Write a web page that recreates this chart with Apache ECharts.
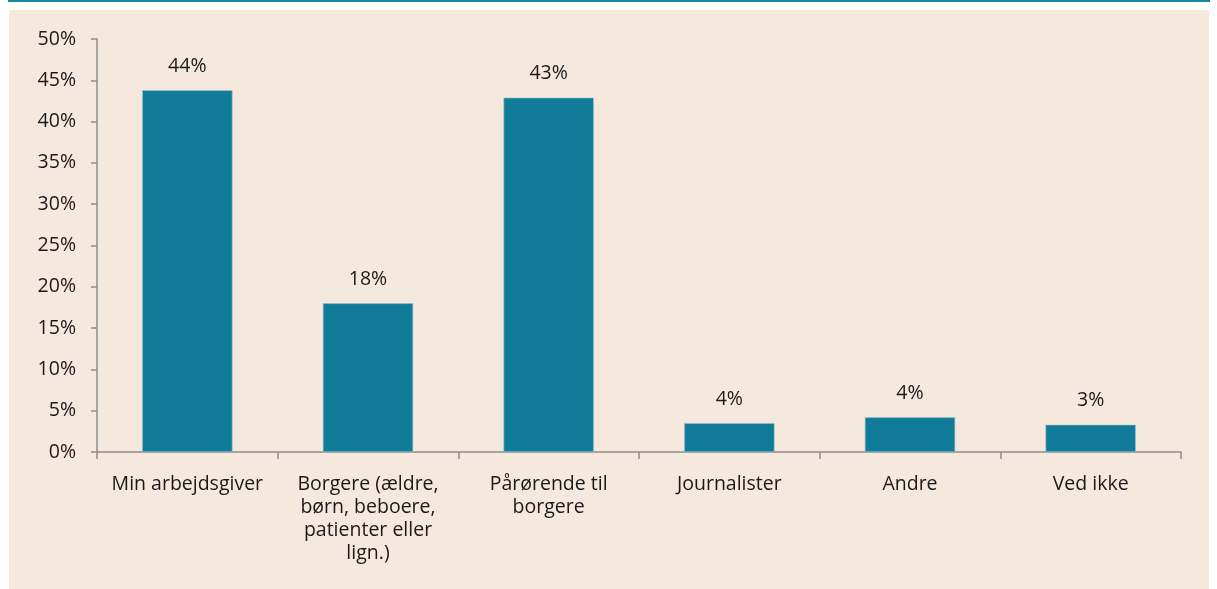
<!DOCTYPE html>
<html><head><meta charset="utf-8">
<script src="https://cdn.jsdelivr.net/npm/echarts@6/dist/echarts.min.js"></script>
<style>
html,body{margin:0;padding:0;background:#fff;width:1217px;height:589px;overflow:hidden}
#topline{position:absolute;left:8px;top:0;width:1202px;height:2px;background:#1b8aa1}
#bg{position:absolute;left:9px;top:10px;width:1200px;height:579px;background:#f5e8dc}
#chart{position:absolute;left:0;top:0;width:1217px;height:589px}
</style></head><body>
<div id="topline"></div><div id="bg"></div><div id="chart"></div>
<script>
const categories = ["Min arbejdsgiver", "Borgere (ældre,\nbørn, beboere,\npatienter eller\nlign.)", "Pårørende til\nborgere", "Journalister", "Andre", "Ved ikke"];
const values = [43.8, 18.0, 42.9, 3.5, 4.2, 3.3];
const yTicks = [0, 5, 10, 15, 20, 25, 30, 35, 40, 45, 50];
const FONT = "Open Sans";
const FS = 19.5;
const chart = echarts.init(document.getElementById('chart'), null, {renderer:'canvas'});
chart.setOption({
  backgroundColor: 'transparent',
  animation: false,
  grid: {left: 97, right: 36, top: 39, bottom: 137},
  xAxis: {
    type: 'category', data: categories,
    axisLine: {lineStyle: {color: '#8c8c8c', width: 1.5}},
    axisTick: {show: true, length: 7, alignWithLabel: false, lineStyle: {color: '#8c8c8c', width: 1.5}},
    axisLabel: {color: '#1a1a1a', fontFamily: FONT, fontSize: FS, lineHeight: 23, margin: 21, interval: 0}
  },
  yAxis: {
    type: 'value', min: yTicks[0], max: yTicks[yTicks.length-1], interval: 5,
    axisLine: {show: true, lineStyle: {color: '#8c8c8c', width: 1.5}},
    axisTick: {show: true, length: 6, lineStyle: {color: '#8c8c8c', width: 1.5}},
    splitLine: {show: false},
    axisLabel: {color: '#1a1a1a', fontFamily: FONT, fontSize: FS, margin: 21, formatter: v => v + '%'}
  },
  series: [{
    type: 'bar', data: values, barWidth: '50%',
    itemStyle: {color: '#117c99', borderColor: '#9fc3cc', borderWidth: 0.6},
    label: {show: true, position: 'top', distance: 14, color: '#1a1a1a', fontFamily: FONT, fontSize: FS,
      formatter: p => Math.round(p.value) + '%'}
  }]
});
</script></body></html>
